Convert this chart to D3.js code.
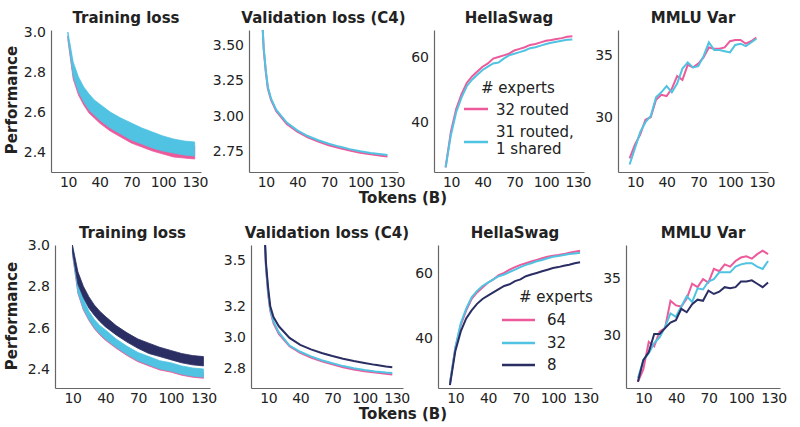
<!DOCTYPE html>
<html><head><meta charset="utf-8">
<script src="https://cdn.jsdelivr.net/npm/d3@7"></script>
<style>body{margin:0;background:#fff}text{font-family:"DejaVu Sans",sans-serif;fill:#222}</style>
</head><body><svg id="c" width="800" height="427"></svg>
<script>
// colours
var PINK = "#ec5a9b", CYAN = "#4fc3e1", NAVY = "#2b2e63";

// training loss bands (x in B tokens)
var trainX = [10, 15, 20, 25, 30, 35, 40, 50, 60, 70, 80, 90, 100, 110, 120, 130];
var topCyanUp = [3.0, 2.85, 2.775, 2.725, 2.69, 2.66, 2.64, 2.60, 2.57, 2.545, 2.52, 2.50, 2.48, 2.465, 2.455, 2.45];
var topCyanLo = [2.97, 2.78, 2.70, 2.65, 2.61, 2.585, 2.56, 2.52, 2.49, 2.46, 2.44, 2.42, 2.405, 2.395, 2.385, 2.38];
var topPinkLo = [2.96, 2.765, 2.685, 2.635, 2.595, 2.57, 2.545, 2.505, 2.475, 2.445, 2.425, 2.405, 2.39, 2.375, 2.37, 2.365];
var botNavyUp = [3.0, 2.87, 2.80, 2.75, 2.71, 2.68, 2.655, 2.61, 2.575, 2.545, 2.525, 2.505, 2.49, 2.475, 2.465, 2.46];
var botNavyLo = [2.97, 2.81, 2.745, 2.695, 2.66, 2.63, 2.605, 2.565, 2.53, 2.50, 2.475, 2.46, 2.445, 2.43, 2.42, 2.415];
var botCyanUp = [2.99, 2.81, 2.74, 2.68, 2.64, 2.61, 2.59, 2.545, 2.51, 2.48, 2.46, 2.44, 2.43, 2.415, 2.405, 2.40];
var botCyanLo = [2.96, 2.77, 2.69, 2.64, 2.60, 2.57, 2.545, 2.505, 2.47, 2.44, 2.42, 2.40, 2.39, 2.375, 2.365, 2.36];
var botPinkLo = [2.955, 2.765, 2.685, 2.635, 2.595, 2.565, 2.54, 2.50, 2.465, 2.435, 2.415, 2.395, 2.385, 2.37, 2.36, 2.355];

// validation loss
var valX = [7, 8, 10, 12, 15, 20, 30, 40, 50, 60, 70, 80, 90, 100, 110, 120, 126];
var topValCyan = [3.62, 3.48, 3.32, 3.20, 3.12, 3.04, 2.95, 2.895, 2.855, 2.825, 2.80, 2.78, 2.762, 2.747, 2.735, 2.725, 2.72];
var topValPink = [3.62, 3.47, 3.31, 3.19, 3.11, 3.03, 2.94, 2.885, 2.845, 2.815, 2.79, 2.77, 2.752, 2.737, 2.725, 2.715, 2.71];
var botValNavy = [3.62, 3.48, 3.32, 3.20, 3.13, 3.07, 2.995, 2.95, 2.92, 2.897, 2.877, 2.86, 2.845, 2.832, 2.82, 2.81, 2.805];
var botValCyan = [3.62, 3.46, 3.29, 3.18, 3.10, 3.03, 2.945, 2.905, 2.875, 2.85, 2.83, 2.812, 2.798, 2.786, 2.777, 2.77, 2.767];
var botValPink = [3.62, 3.45, 3.28, 3.17, 3.09, 3.02, 2.94, 2.898, 2.868, 2.843, 2.823, 2.805, 2.79, 2.778, 2.77, 2.762, 2.758];

// eval checkpoints
var evalX = [5, 10, 15, 20, 25, 30, 35, 40, 45, 50, 55, 60, 65, 70, 75, 80, 85, 90, 95, 100, 105, 110, 115, 120, 125];
var topHsPink = [26, 37, 44, 48.5, 52, 54, 55.5, 57, 58, 59.5, 60, 60.5, 61, 62, 62.5, 63, 63.7, 64, 64.5, 65, 65.2, 65.5, 65.8, 66.2, 66.4];
var topHsCyan = [26, 36, 43, 47.5, 51, 53, 54.5, 56, 57, 58, 58.3, 59.5, 60.5, 61, 61.5, 62, 62.7, 63, 63.5, 64, 64.4, 64.7, 65, 65.3, 65.4];
var botHsPink = [26, 37, 44, 48.5, 52, 54, 55.5, 57, 58, 59.3, 60, 61, 61.8, 62.5, 63, 63.5, 64, 64.5, 65, 65.3, 65.5, 65.8, 66.2, 66.5, 66.8];
var botHsCyan = [26, 37, 44.5, 49, 52.5, 54.5, 56, 57, 58, 59, 59.5, 60.3, 61, 61.8, 62.5, 63, 63.6, 64, 64.5, 65, 65.2, 65.5, 65.8, 66, 66.2];
var botHsNavy = [25.5, 36, 42, 46, 48.5, 50.5, 52, 53, 54, 55, 56, 56.5, 57.5, 58, 59, 59.5, 60, 60.5, 61, 61.5, 61.8, 62.2, 62.5, 63, 63.3];
var topMmPink = [26.7, 27.8, 28.6, 29.8, 30.0, 31.4, 31.8, 31.7, 32.3, 33.3, 33.0, 34.2, 34.0, 34.3, 34.8, 35.6, 35.5, 35.5, 35.6, 36.1, 36.2, 36.2, 35.9, 36.1, 36.4];
var topMmCyan = [26.2, 27.5, 28.8, 29.6, 30.1, 31.6, 32.0, 32.5, 32.0, 32.7, 33.9, 34.4, 34.0, 34.1, 34.9, 36.0, 35.4, 35.4, 35.3, 35.2, 35.8, 35.9, 35.7, 36.0, 36.3];
var botMmPink = [25.9, 27.0, 29.4, 29.0, 30.3, 30.6, 33.0, 32.6, 32.5, 33.2, 34.5, 34.2, 34.9, 34.6, 35.8, 35.6, 36.2, 36.0, 36.5, 36.8, 36.9, 36.7, 37.1, 37.4, 37.1];
var botMmCyan = [26.2, 27.8, 28.4, 29.3, 29.8, 30.7, 31.9, 31.6, 32.5, 33.4, 32.9, 34.1, 34.0, 34.7, 34.9, 35.5, 35.5, 35.5, 36.0, 36.2, 36.3, 36.3, 36.0, 35.8, 36.5];
var botMmNavy = [25.9, 27.8, 28.5, 30.1, 30.1, 30.6, 31.1, 31.3, 32.3, 32.0, 32.7, 33.1, 33.0, 33.9, 33.6, 33.8, 34.2, 34.1, 34.2, 34.7, 34.7, 34.8, 34.5, 34.2, 34.6];

var xTicks = [10, 40, 70, 100, 130];
var svg = d3.select("#c");

function panel(p) {
  var x = d3.scaleLinear().domain([-6, 136]).range(p.xr);
  var y = d3.scaleLinear().domain(p.yd).range([p.yr[1], p.yr[0]]);
  var g = svg.append("g");
  var clip = "clip" + Math.round(p.xr[0]) + p.yr[0];
  g.append("clipPath").attr("id", clip).append("rect")
    .attr("x", p.xr[0]).attr("y", p.yr[0]).attr("width", p.xr[1] - p.xr[0]).attr("height", p.yr[1] - p.yr[0]);
  var plot = g.append("g").attr("clip-path", "url(#" + clip + ")");
  (p.bands || []).forEach(function (b) {
    plot.append("path").datum(d3.range(b.x.length))
      .attr("fill", b.c).attr("stroke", b.c).attr("stroke-width", 0.8)
      .attr("d", d3.area().x(function (i) { return x(b.x[i]); })
        .y0(function (i) { return y(b.lo[i]); }).y1(function (i) { return y(b.up[i]); }));
  });
  (p.lines || []).forEach(function (l) {
    plot.append("path").datum(d3.range(l.x.length))
      .attr("fill", "none").attr("stroke", l.c).attr("stroke-width", 2)
      .attr("d", d3.line().x(function (i) { return x(l.x[i]); }).y(function (i) { return y(l.y[i]); }));
  });
  var ax = g.append("g").attr("transform", "translate(0," + p.yr[1] + ")")
    .call(d3.axisBottom(x).tickValues(xTicks).tickSize(0).tickPadding(5));
  var ay = g.append("g").attr("transform", "translate(" + p.xr[0] + ",0)")
    .call(d3.axisLeft(y).tickValues(p.yt).tickFormat(d3.format(p.fmt)).tickSize(0).tickPadding(5));
  [ax, ay].forEach(function (a) {
    a.select(".domain").attr("stroke", "#666").attr("stroke-width", 1.2);
    a.selectAll("text").style("font-size", "14px").attr("fill", "#222");
  });
  ax.selectAll("text").attr("letter-spacing", "-0.4px");
  g.append("text").attr("x", (p.xr[0] + p.xr[1]) / 2).attr("y", p.yr[0] - 7)
    .attr("text-anchor", "middle").style("font-size", "15px").style("font-weight", "bold").text(p.title);
}

var rows = [
  { yr: [30, 172], xs: [[51, 201], [249, 398], [434, 584], [618, 768]] },
  { yr: [245, 388], xs: [[55, 210], [251, 403], [438, 592], [626, 780]] }
];

// top row
panel({ title: "Training loss", xr: rows[0].xs[0], yr: rows[0].yr, yd: [2.3, 3.01], yt: [2.4, 2.6, 2.8, 3.0], fmt: ".1f",
  bands: [{ x: trainX, lo: topPinkLo, up: topCyanUp.map(function (v) { return v - 0.02; }), c: PINK },
          { x: trainX, lo: topCyanLo, up: topCyanUp, c: CYAN }] });
panel({ title: "Validation loss (C4)", xr: rows[0].xs[1], yr: rows[0].yr, yd: [2.6, 3.606], yt: [2.75, 3.0, 3.25, 3.5], fmt: ".2f",
  lines: [{ x: valX, y: topValPink, c: PINK }, { x: valX, y: topValCyan, c: CYAN }] });
panel({ title: "HellaSwag", xr: rows[0].xs[2], yr: rows[0].yr, yd: [24.6, 68.3], yt: [40, 60], fmt: "d",
  lines: [{ x: evalX, y: topHsPink, c: PINK }, { x: evalX, y: topHsCyan, c: CYAN }] });
panel({ title: "MMLU Var", xr: rows[0].xs[3], yr: rows[0].yr, yd: [25.6, 37.0], yt: [30, 35], fmt: "d",
  lines: [{ x: evalX, y: topMmPink, c: PINK }, { x: evalX, y: topMmCyan, c: CYAN }] });

// bottom row
panel({ title: "Training loss", xr: rows[1].xs[0], yr: rows[1].yr, yd: [2.308, 3.0], yt: [2.4, 2.6, 2.8, 3.0], fmt: ".1f",
  bands: [{ x: trainX, lo: botPinkLo, up: botCyanUp.map(function (v) { return v - 0.02; }), c: PINK },
          { x: trainX, lo: botCyanLo, up: botCyanUp, c: CYAN },
          { x: trainX, lo: botNavyLo, up: botNavyUp, c: NAVY }] });
panel({ title: "Validation loss (C4)", xr: rows[1].xs[1], yr: rows[1].yr, yd: [2.67, 3.597], yt: [2.8, 3.0, 3.2, 3.5], fmt: ".1f",
  lines: [{ x: valX, y: botValPink, c: PINK }, { x: valX, y: botValCyan, c: CYAN }, { x: valX, y: botValNavy, c: NAVY }] });
panel({ title: "HellaSwag", xr: rows[1].xs[2], yr: rows[1].yr, yd: [24.6, 68.6], yt: [40, 60], fmt: "d",
  lines: [{ x: evalX, y: botHsPink, c: PINK }, { x: evalX, y: botHsCyan, c: CYAN }, { x: evalX, y: botHsNavy, c: NAVY }] });
panel({ title: "MMLU Var", xr: rows[1].xs[3], yr: rows[1].yr, yd: [25.35, 37.9], yt: [30, 35], fmt: "d",
  lines: [{ x: evalX, y: botMmPink, c: PINK }, { x: evalX, y: botMmCyan, c: CYAN }, { x: evalX, y: botMmNavy, c: NAVY }] });

// shared labels
[100, 316].forEach(function (cy) {
  svg.append("text").attr("transform", "translate(17," + cy + ") rotate(-90)")
    .attr("text-anchor", "middle").style("font-size", "15px").style("font-weight", "bold").text("Performance");
});
[203, 419].forEach(function (ty) {
  svg.append("text").attr("x", 403).attr("y", ty).attr("text-anchor", "middle")
    .style("font-size", "15px").style("font-weight", "bold").text("Tokens (B)");
});

// legends
function legend(x0, y0, items, lineW, gap) {
  var g = svg.append("g").style("font-size", "15px");
  g.append("text").attr("x", x0 + 17).attr("y", y0).text("# experts");
  items.forEach(function (it) {
    g.append("line").attr("x1", x0).attr("x2", x0 + lineW).attr("y1", it.ly).attr("y2", it.ly)
      .attr("stroke", it.c).attr("stroke-width", 2.5);
    it.t.forEach(function (t, k) {
      g.append("text").attr("x", x0 + lineW + gap).attr("y", it.ty + k * 17).text(t);
    });
  });
}
legend(464, 93, [
  { c: PINK, ly: 109, ty: 115, t: ["32 routed"] },
  { c: CYAN, ly: 142, ty: 137, t: ["31 routed,", "1 shared"] }
], 24, 8);
legend(502, 302, [
  { c: PINK, ly: 320, ty: 325, t: ["64"] },
  { c: CYAN, ly: 343, ty: 348, t: ["32"] },
  { c: NAVY, ly: 365, ty: 370, t: ["8"] }
], 33, 12);
</script></body></html>
